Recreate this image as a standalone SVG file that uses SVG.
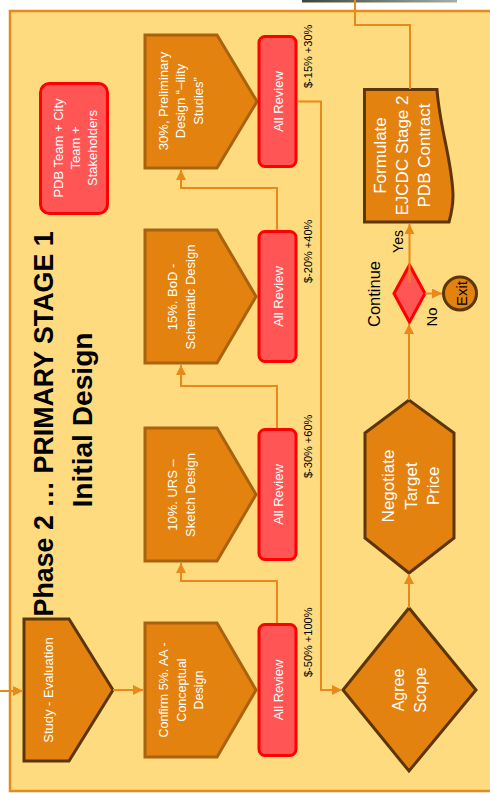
<svg xmlns="http://www.w3.org/2000/svg" width="490" height="793" viewBox="0 0 490 793">
<defs>
<style>
.panel{fill:#FFDB7F;stroke:#E8891A;stroke-width:2.5}
.step{fill:#E3820F;stroke:#A9630F;stroke-width:3;stroke-linejoin:miter}
.dark{fill:#E3820F;stroke:#5C3608;stroke-width:3;stroke-linejoin:miter}
.red{fill:#FF5555;stroke:#FF0000;stroke-width:3}
.wt{font-family:"Liberation Sans",Arial,sans-serif;fill:#FFFFFF;text-anchor:middle}
.bt{font-family:"Liberation Sans",Arial,sans-serif;fill:#000000;text-anchor:middle}
.lbl{font-family:"Liberation Sans",Arial,sans-serif;fill:#000000;font-size:11px}
.conn{fill:none;stroke:#E8891A;stroke-width:2}
</style>
<marker id="ah" viewBox="0 0 10 10" refX="10" refY="5" markerWidth="10" markerHeight="10" markerUnits="userSpaceOnUse" orient="auto">
<path d="M0,0 L10,5 L0,10 z" fill="#E8891A"/>
</marker>
<linearGradient id="strip" x1="0" y1="0" x2="1" y2="0">
<stop offset="0" stop-color="#3a463a"/>
<stop offset="1" stop-color="#a8aea6"/>
</linearGradient>
</defs>
<rect x="0" y="0" width="490" height="793" fill="#FFFFFF"/>
<rect x="302" y="0" width="155" height="2.5" fill="url(#strip)"/>
<rect class="panel" x="10" y="11" width="490" height="780"/>

<g id="title">
<text transform="rotate(-90)" font-family="'Liberation Sans',Arial,sans-serif" font-weight="bold" font-size="28" text-anchor="middle" fill="#000">
<tspan x="-420" y="53" textLength="385" lengthAdjust="spacingAndGlyphs">Phase 2 … PRIMARY STAGE 1</tspan>
<tspan x="-420" y="92" textLength="175" lengthAdjust="spacingAndGlyphs">Initial Design</tspan>
</text>
</g>

<g id="pdb-team">
<rect class="red" x="40.5" y="83.5" width="67" height="130" rx="9"/>
<text class="wt" transform="rotate(-90)" font-size="13"><tspan x="-148" y="63">PDB Team + City</tspan><tspan x="-148" y="80">Team +</tspan><tspan x="-148" y="97">Stakeholders</tspan></text>
</g>

<g id="study">
<polygon class="dark" points="24,619 69,619 113,690 69,761 24,761"/>
<text class="wt" transform="rotate(-90)" font-size="13"><tspan x="-690" y="53">Study - Evaluation</tspan></text>
</g>

<g id="confirm">
<polygon class="step" points="145,623 217,623 256,690 217,757 145,757"/>
<text class="wt" transform="rotate(-90)" font-size="12.5"><tspan x="-690" y="168">Confirm 5%. AA -</tspan><tspan x="-690" y="185.5">Conceptual</tspan><tspan x="-690" y="203">Design</tspan></text>
</g>

<g id="urs">
<polygon class="step" points="145,428 217,428 256,494.5 217,561 145,561"/>
<text class="wt" transform="rotate(-90)" font-size="13"><tspan x="-495" y="177">10%. URS –</tspan><tspan x="-495" y="194.5">Sketch Design</tspan></text>
</g>

<g id="bod">
<polygon class="step" points="145,230 217,230 256,296.5 217,363 145,363"/>
<text class="wt" transform="rotate(-90)" font-size="13"><tspan x="-297" y="177">15%. BoD -</tspan><tspan x="-297" y="194.5">Schematic Design</tspan></text>
</g>

<g id="prelim">
<polygon class="step" points="145,35 217,35 257,101.5 217,168 145,168"/>
<text class="wt" transform="rotate(-90)" font-size="13"><tspan x="-101" y="167.5">30%,  Preliminary</tspan><tspan x="-101" y="185">Design “–ility</tspan><tspan x="-101" y="202.5">Studies”</tspan></text>
</g>

<g id="review1">
<rect class="red" x="259" y="624.5" width="37" height="131" rx="6"/>
<text class="wt" transform="rotate(-90)" font-size="13"><tspan x="-690" y="282.5">All Review</tspan></text>
</g>
<g id="review2">
<rect class="red" x="259" y="429.5" width="37" height="130" rx="6"/>
<text class="wt" transform="rotate(-90)" font-size="13"><tspan x="-494.5" y="282.5">All Review</tspan></text>
</g>
<g id="review3">
<rect class="red" x="259" y="231.5" width="37" height="130" rx="6"/>
<text class="wt" transform="rotate(-90)" font-size="13"><tspan x="-296.5" y="282.5">All Review</tspan></text>
</g>
<g id="review4">
<rect class="red" x="259" y="36.5" width="37" height="130" rx="6"/>
<text class="wt" transform="rotate(-90)" font-size="13"><tspan x="-101.5" y="282.5">All Review</tspan></text>
</g>

<g id="cost-labels">
<text class="lbl" transform="rotate(-90)"><tspan x="-677" y="312">$-50% +100%</tspan><tspan x="-478" y="312">$-30% +60%</tspan><tspan x="-283" y="312">$-20% +40%</tspan><tspan x="-88" y="312">$-15% +30%</tspan></text>
</g>

<g id="agree-scope">
<polygon class="dark" points="343,690 409,608 476,690 409,771"/>
<text class="wt" transform="rotate(-90)" font-size="16"><tspan x="-690" y="404">Agree</tspan><tspan x="-690" y="425.5">Scope</tspan></text>
</g>

<g id="negotiate">
<polygon class="dark" points="365,433 409,400 454,433 454,538 409,573 365,538"/>
<text class="wt" transform="rotate(-90)" font-size="17"><tspan x="-486" y="394">Negotiate</tspan><tspan x="-486" y="416.5">Target</tspan><tspan x="-486" y="439">Price</tspan></text>
</g>

<g id="continue">
<polygon class="red" points="394,293.5 409.5,265 425,293.5 409.5,322"/>
<text class="bt" transform="rotate(-90)" font-size="16.5"><tspan x="-294" y="380">Continue</tspan></text>
</g>

<g id="exit">
<circle class="dark" cx="460" cy="293.5" r="16.5"/>
<text class="bt" transform="rotate(-90)" font-size="15"><tspan x="-293.5" y="467">Exit</tspan></text>
</g>

<g id="formulate">
<path class="dark" d="M364.5,89.5 H437 C440,130 452,160 453,195 C453,208 451,215 449,222 H364.5 Z"/>
<text class="wt" transform="rotate(-90)" font-size="17"><tspan x="-155.5" y="386">Formulate</tspan><tspan x="-155.5" y="408">EJCDC Stage 2</tspan><tspan x="-155.5" y="430">PDB Contract</tspan></text>
</g>

<g id="connectors">
<path class="conn" d="M0,691 H23" marker-end="url(#ah)"/>
<path class="conn" d="M113,690 H143" marker-end="url(#ah)"/>
<path class="conn" d="M277,623 V581 H181 V563" marker-end="url(#ah)"/>
<path class="conn" d="M277,428 V386 H181 V365" marker-end="url(#ah)"/>
<path class="conn" d="M277,230 V188 H181 V170" marker-end="url(#ah)"/>
<path class="conn" d="M298,101.5 H321 V690 H342" marker-end="url(#ah)"/>
<path class="conn" d="M409,608 V574" marker-end="url(#ah)"/>
<path class="conn" d="M409,400 V324" marker-end="url(#ah)"/>
<path class="conn" d="M425,293.5 H442" marker-end="url(#ah)"/>
<path class="conn" d="M409.5,283 V224" marker-end="url(#ah)"/>
<path class="conn" d="M410,89 V25 H355 V0"/>
</g>
<g id="edge-labels">
<text class="bt" transform="rotate(-90)" font-size="14"><tspan x="-241.5" y="403">Yes</tspan></text>
<text class="bt" transform="rotate(-90)" font-size="15"><tspan x="-317" y="437">No</tspan></text>
</g>
</svg>
